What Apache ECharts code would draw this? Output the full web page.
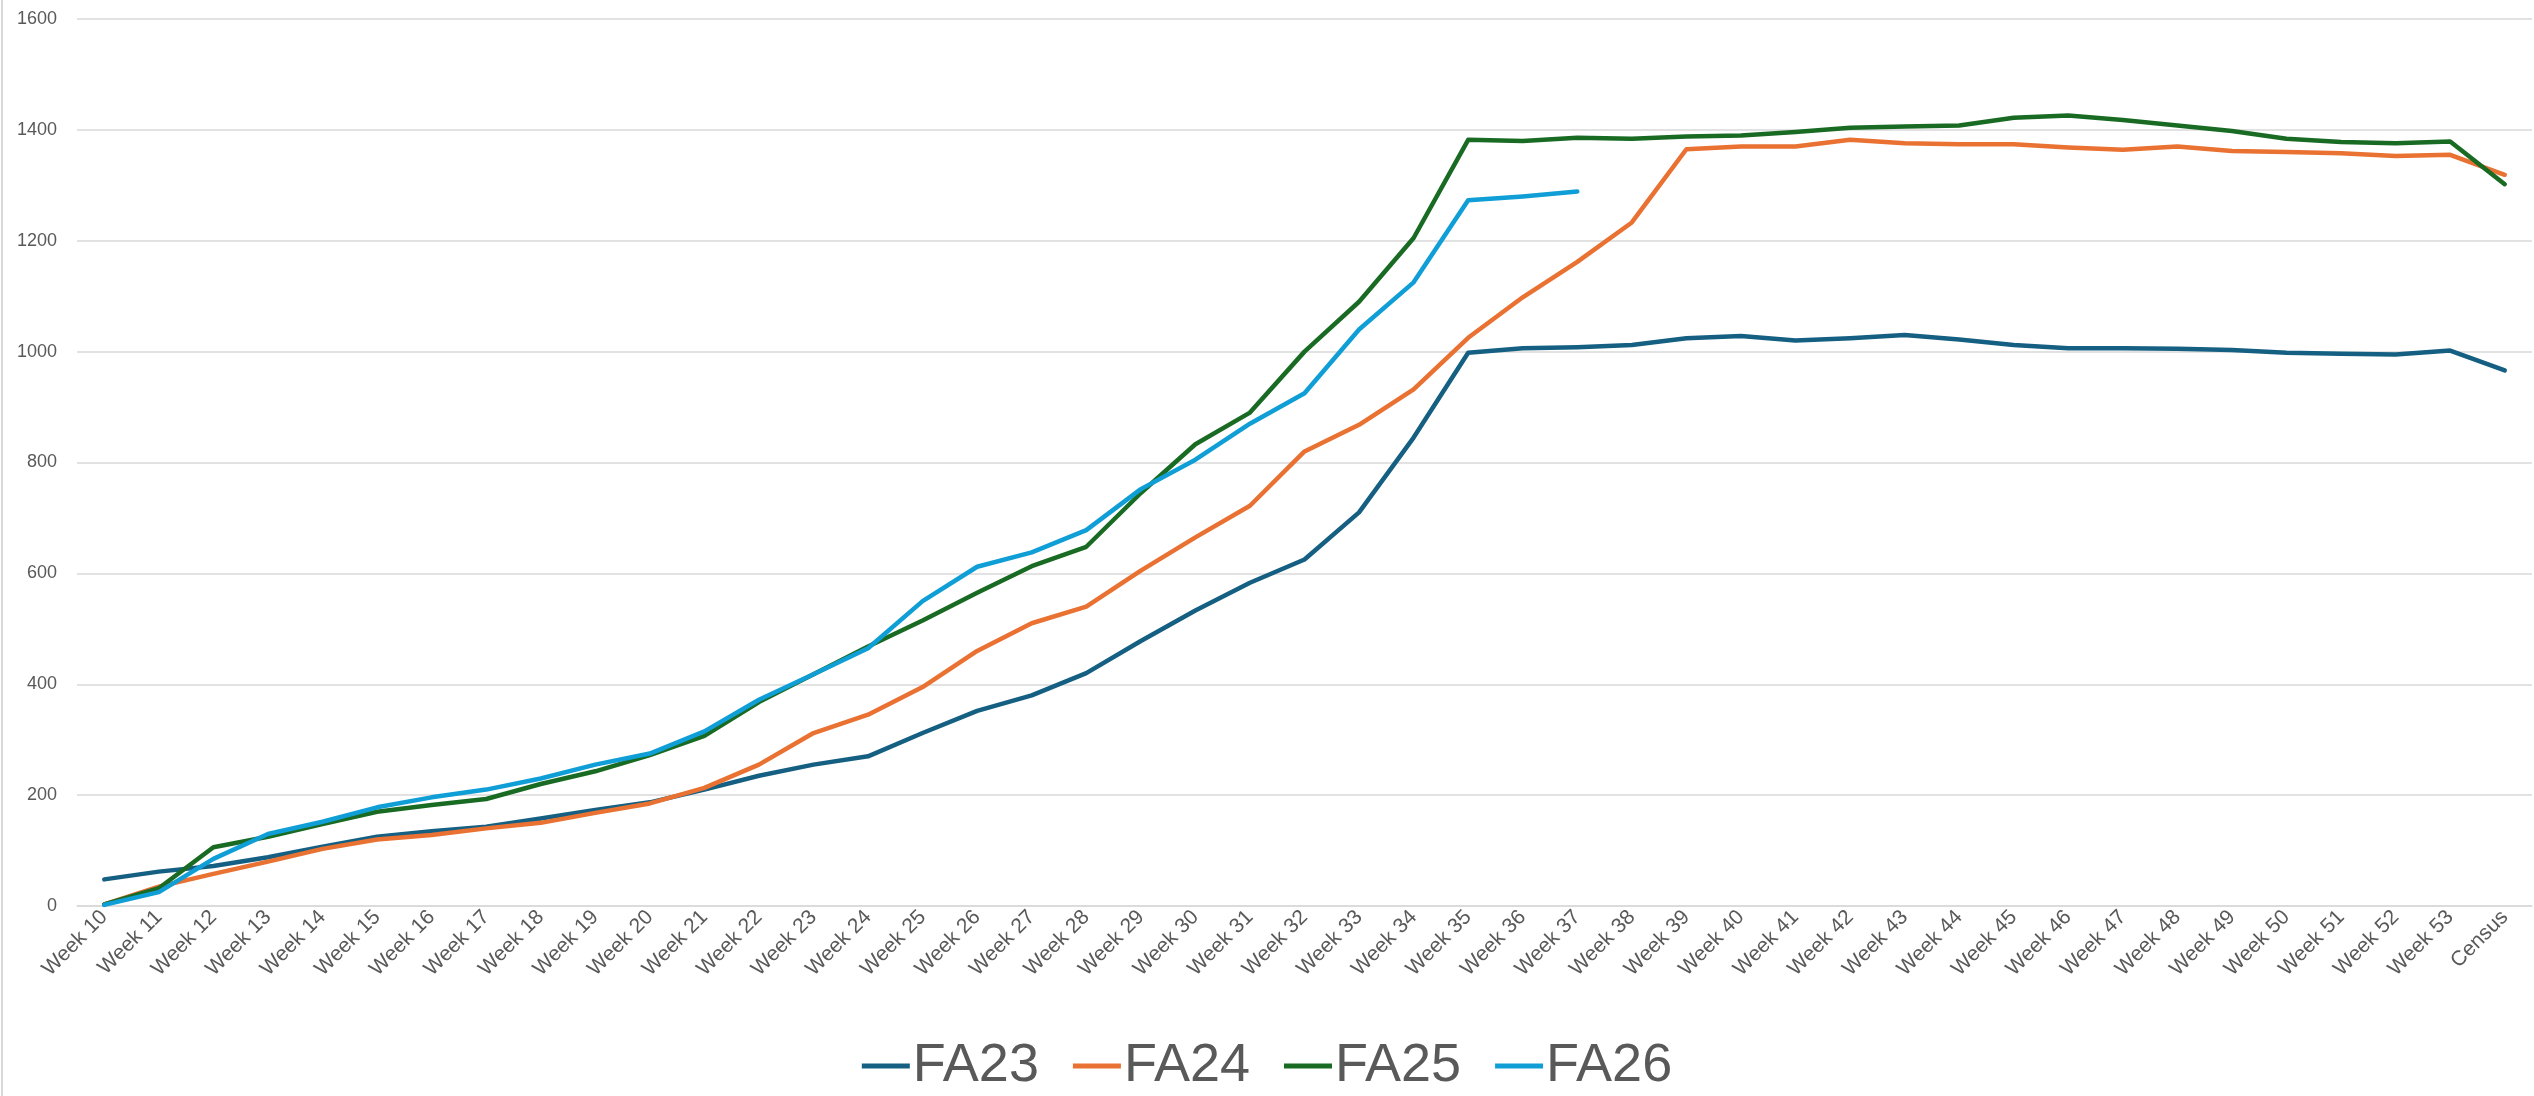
<!DOCTYPE html>
<html>
<head>
<meta charset="utf-8">
<script src="https://cdn.jsdelivr.net/npm/echarts@6/dist/echarts.min.js"></script>
<style>
html,body{margin:0;padding:0;background:#fff;}
#chart{width:2534px;height:1096px;}
</style>
</head>
<body>
<div id="chart"></div>
<script>
const categories = ["Week 10","Week 11","Week 12","Week 13","Week 14","Week 15","Week 16","Week 17","Week 18","Week 19",
  "Week 20","Week 21","Week 22","Week 23","Week 24","Week 25","Week 26","Week 27","Week 28","Week 29",
  "Week 30","Week 31","Week 32","Week 33","Week 34","Week 35","Week 36","Week 37","Week 38","Week 39",
  "Week 40","Week 41","Week 42","Week 43","Week 44","Week 45","Week 46","Week 47","Week 48","Week 49",
  "Week 50","Week 51","Week 52","Week 53","Census"];

const fa23 = [48,62,72,88,107,125,135,143,158,173,
  187,210,235,255,270,312,352,380,420,478,
  533,583,625,710,845,998,1006,1008,1012,1024,
  1028,1020,1024,1030,1022,1012,1006,1006,1005,1003,
  998,996,995,1002,966];

const fa24 = [3,35,58,80,103,120,128,140,150,168,
  185,213,255,312,345,395,460,510,540,605,
  665,722,820,868,932,1025,1098,1162,1233,1365,
  1370,1370,1382,1376,1374,1374,1368,1364,1370,1362,
  1360,1358,1353,1355,1319];

const fa25 = [3,32,106,125,148,170,182,193,220,243,
  272,307,368,418,468,515,565,613,648,745,
  833,890,1000,1090,1205,1382,1380,1386,1384,1388,
  1390,1396,1404,1406,1408,1422,1426,1418,1408,1398,
  1384,1378,1376,1379,1302];

const fa26 = [2,25,85,130,152,178,196,210,230,255,
  275,315,372,418,465,550,612,638,678,752,
  805,870,925,1040,1125,1273,1280,1289];

const seriesNames = ["FA23","FA24","FA25","FA26"];
const seriesColors = ["#156082","#E97132","#196B24","#0F9ED5"];
const seriesData = [fa23, fa24, fa25, fa26];

const chart = echarts.init(document.getElementById('chart'), null, {renderer:'canvas'});
const fontFam = "'Liberation Sans Narrow','Liberation Sans',Arial,sans-serif";

chart.setOption({
  animation: false,
  backgroundColor: '#ffffff',
  color: seriesColors,
  grid: {left: 77, right: 2, top: 19, bottom: 190, containLabel: false},
  legend: {
    data: seriesNames,
    left: 'center',
    top: 1034,
    icon: 'rect',
    itemWidth: 48,
    itemHeight: 5,
    itemGap: 34,
    textStyle: {fontSize: 54, color: '#595959', fontFamily: fontFam, padding: [0,0,0,-2]}
  },
  xAxis: {
    type: 'category',
    data: categories,
    boundaryGap: true,
    axisLine: {show: true, lineStyle: {color: '#d9d9d9', width: 1.5}},
    axisTick: {show: false},
    axisLabel: {rotate: 45, fontSize: 21, color: '#595959', fontFamily: fontFam, margin: 8, interval: 0}
  },
  yAxis: {
    type: 'value',
    min: 0, max: 1600, interval: 200,
    axisLine: {show: false},
    axisTick: {show: false},
    axisLabel: {fontSize: 18, color: '#595959', fontFamily: fontFam, margin: 20, formatter: v => String(v)},
    splitLine: {lineStyle: {color: '#d9d9d9', width: 1.5}}
  },
  series: seriesNames.map((n, i) => ({
    name: n,
    type: 'line',
    data: seriesData[i],
    symbol: 'none',
    showSymbol: false,
    smooth: false,
    lineStyle: {width: 4.5, color: seriesColors[i], cap: 'round', join: 'round'},
    itemStyle: {color: seriesColors[i]}
  })),
  graphic: [{
    type: 'rect', left: 1, top: 0,
    shape: {width: 2, height: 1096},
    style: {fill: '#d9d9d9'}, silent: true
  }]
});
</script>
</body>
</html>
